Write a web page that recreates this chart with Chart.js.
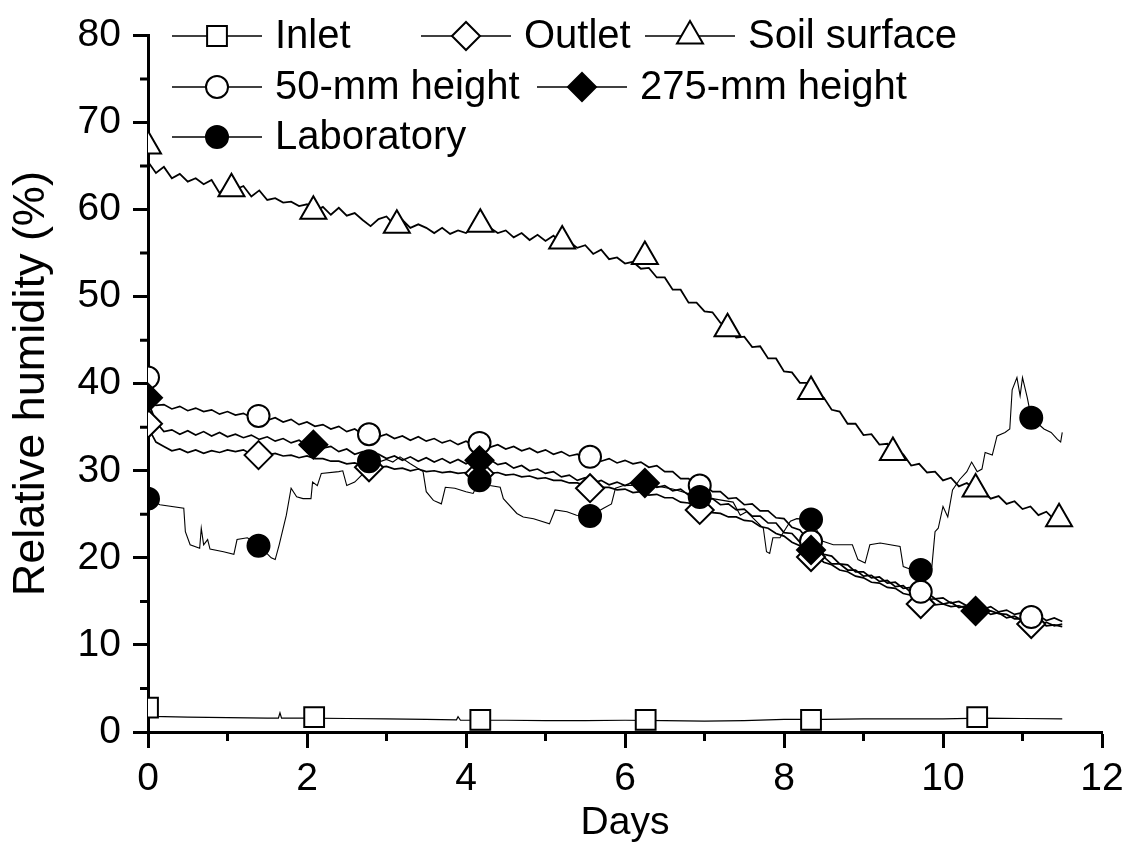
<!DOCTYPE html>
<html>
<head>
<meta charset="utf-8">
<script src="https://cdn.jsdelivr.net/npm/chart.js@4.4.1/dist/chart.umd.min.js"></script>
<style>
  html, body { margin: 0; padding: 0; background: #fff; }
  #wrap { width: 1134px; height: 849px; }
</style>
</head>
<body>
<div id="wrap"><canvas id="rhChart" width="1134" height="849"></canvas></div>
<script>
const FONT = '"Liberation Sans", Arial, sans-serif';

// Axis ticks
const xMajor = [0, 2, 4, 6, 8, 10, 12];
const xMinor = [1, 3, 5, 7, 9, 11];
const yMinor = [5, 15, 25, 35, 45, 55, 65, 75];

// Logged days shared by the four noisy probes
const days = [
  0.0, 0.1, 0.2, 0.3, 0.4, 0.5, 0.6, 0.7, 0.8, 0.9,
  1.0, 1.1, 1.2, 1.3, 1.4, 1.5, 1.6, 1.7, 1.8, 1.9,
  2.0, 2.1, 2.2, 2.3, 2.4, 2.5, 2.6, 2.7, 2.8, 2.9,
  3.0, 3.1, 3.2, 3.3, 3.4, 3.5, 3.6, 3.7, 3.8, 3.9,
  4.0, 4.1, 4.2, 4.3, 4.4, 4.5, 4.6, 4.7, 4.8, 4.9,
  5.0, 5.1, 5.2, 5.3, 5.4, 5.5, 5.6, 5.7, 5.8, 5.9,
  6.0, 6.1, 6.2, 6.3, 6.4, 6.5, 6.6, 6.7, 6.8, 6.9,
  7.0, 7.1, 7.2, 7.3, 7.4, 7.5, 7.6, 7.7, 7.8, 7.9,
  8.0, 8.1, 8.2, 8.3, 8.4, 8.5, 8.6, 8.7, 8.8, 8.9,
  9.0, 9.1, 9.2, 9.3, 9.4, 9.5, 9.6, 9.7, 9.8, 9.9,
  10.0, 10.1, 10.2, 10.3, 10.4, 10.5, 10.6, 10.7, 10.8, 10.9,
  11.0, 11.1, 11.2, 11.3, 11.4, 11.5
];

const soilRH = [
  65.5, 64.2, 64.9, 63.6, 64.1, 63.2, 63.6, 62.9, 63.4, 61.9,
  62.9, 62.3, 62.7, 61.5, 62.2, 61.1, 61.3, 60.8, 60.9, 60.4,
  60.6, 59.8, 60.3, 59.4, 60.2, 59.3, 59.6, 58.8, 58.1, 58.9,
  59.2, 58.2, 58.8, 57.9, 58.3, 57.9, 57.3, 57.9, 57.2, 57.6,
  57.3, 58.1, 57.6, 57.9, 57.3, 57.6, 56.8, 57.3, 56.5, 57.1,
  56.4, 57.0, 56.1, 56.3, 55.6, 55.9, 54.9, 55.4, 54.3, 54.5,
  53.8, 54.0, 53.2, 53.3, 52.2, 52.2, 50.8, 50.8, 49.3, 49.3,
  48.3, 48.2, 47.0, 46.6, 45.3, 45.4, 44.2, 44.3, 42.9, 42.9,
  41.4, 41.3, 40.1, 40.1, 38.9, 38.4, 37.0, 36.8, 35.4, 35.4,
  34.1, 34.2, 33.0, 33.1, 32.0, 31.9, 30.6, 30.8, 29.8, 29.9,
  28.9, 29.2, 28.2, 28.6, 27.9, 27.7, 26.8, 27.1, 26.2, 26.5,
  25.6, 25.9, 24.9, 25.3, 24.4, 24.9
];

const mm50RH = [
  38.6, 37.5, 37.6, 37.1, 37.4, 36.9, 37.2, 36.8, 37.0, 36.5,
  36.8, 36.4, 36.6, 36.1, 36.4, 35.8, 36.1, 35.6, 35.9, 35.3,
  35.6, 35.1, 35.3, 34.8, 35.1, 34.5, 34.8, 34.2, 34.4, 33.9,
  34.2, 33.7, 34.0, 33.5, 33.9, 33.4, 33.7, 33.2, 33.5, 33.0,
  33.4, 32.9, 33.2, 32.7, 33.0, 32.5, 32.8, 32.3, 32.6, 32.1,
  32.4, 31.9, 32.2, 31.7, 31.9, 31.4, 31.6, 31.1, 31.4, 30.9,
  31.2, 30.8, 31.0, 30.4, 30.6, 29.9, 29.9, 29.1, 29.1, 28.3,
  28.4, 27.6, 27.6, 26.8, 26.9, 26.1, 26.2, 25.4, 25.4, 24.6,
  24.5, 23.5, 23.2, 22.1, 21.8, 20.4, 20.2, 19.3, 19.2, 18.4,
  18.4, 17.7, 17.8, 17.1, 17.2, 16.5, 16.6, 15.9, 16.0, 15.3,
  15.4, 14.8, 15.0, 14.5, 14.7, 14.1, 14.4, 13.8, 14.0, 13.5,
  13.7, 13.1, 13.4, 12.8, 13.1, 12.7
];

const mm275RH = [
  38.0, 35.6, 34.5, 34.7, 34.2, 34.6, 34.1, 34.5, 34.0, 34.4,
  33.9, 34.2, 33.8, 34.1, 33.6, 33.9, 33.4, 33.7, 33.2, 33.5,
  32.9, 33.2, 32.6, 32.8, 32.2, 32.5, 31.9, 32.2, 31.6, 31.9,
  31.4, 31.7, 31.2, 31.6, 31.1, 31.5, 31.0, 31.4, 30.9, 31.3,
  30.8, 31.2, 30.9, 31.3, 30.7, 30.9, 30.3, 30.6, 30.0, 30.2,
  29.7, 29.9, 29.3, 29.5, 28.9, 29.2, 28.6, 28.9, 28.4, 28.7,
  28.3, 28.7, 28.3, 28.6, 28.1, 28.3, 27.7, 27.9, 27.2, 27.3,
  26.7, 26.8, 26.1, 26.2, 25.5, 25.6, 24.8, 24.8, 24.0, 24.0,
  22.9, 22.8, 21.8, 21.4, 20.3, 20.1, 19.3, 19.3, 18.6, 18.6,
  17.9, 18.0, 17.3, 17.4, 16.7, 16.8, 16.0, 16.0, 15.2, 15.3,
  14.7, 14.9, 14.3, 14.5, 13.9, 14.1, 13.5, 13.7, 13.1, 13.3,
  12.8, 12.9, 12.4, 12.6, 12.2, 12.4
];

const outletRH = [
  35.0, 33.3, 32.8, 32.3, 32.5, 32.1, 32.4, 32.0, 32.3, 32.1,
  32.4, 32.2, 32.4, 31.9, 32.0, 31.8, 32.0, 31.7, 31.8, 31.5,
  31.7, 31.4, 31.4, 31.1, 31.1, 30.8, 30.9, 30.6, 30.7, 30.4,
  30.5, 30.2, 30.3, 30.0, 30.2, 29.9, 30.0, 29.8, 29.9, 29.7,
  29.8, 29.6, 29.9, 29.7, 29.8, 29.5, 29.6, 29.3, 29.4, 29.1,
  29.2, 28.9, 28.9, 28.6, 28.6, 28.3, 28.4, 28.1, 28.1, 27.8,
  27.9, 27.5, 27.6, 27.2, 27.3, 26.9, 26.9, 26.4, 26.3, 25.8,
  25.7, 25.2, 25.1, 24.7, 24.7, 24.3, 24.2, 23.6, 23.4, 22.8,
  22.5, 21.8, 21.4, 20.6, 20.3, 19.5, 19.2, 18.6, 18.4, 17.9,
  17.7, 17.2, 17.1, 16.6, 16.5, 15.9, 15.7, 15.1, 15.0, 14.6,
  14.7, 14.4, 14.5, 14.2, 14.2, 13.9, 13.9, 13.6, 13.5, 13.0,
  13.0, 12.6, 12.6, 12.2, 12.3, 12.1
];

const inletDays = [0, 0.05, 0.5, 1.0, 1.5, 1.64, 1.66, 1.68, 2.0, 2.5, 3.0, 3.5, 3.88, 3.9, 3.93,
  4.5, 5.0, 5.5, 6.0, 6.5, 7.0, 7.5, 8.0, 8.5, 9.0, 9.5, 10.0, 10.5, 11.0, 11.5];
const inletRH = [2.8, 1.8, 1.7, 1.65, 1.6, 1.6, 2.2, 1.6, 1.6, 1.55, 1.5, 1.45, 1.4, 1.75, 1.35,
  1.35, 1.3, 1.3, 1.35, 1.3, 1.25, 1.3, 1.45, 1.45, 1.5, 1.5, 1.5, 1.6, 1.55, 1.5];

const labDays = [
  0, 0.15, 0.45, 0.47, 0.53, 0.65, 0.67, 0.7, 0.75, 0.78,
  0.95, 1.08, 1.12, 1.25, 1.4, 1.55, 1.6, 1.65, 1.74, 1.8,
  1.87, 1.95, 2.05, 2.07, 2.13, 2.18, 2.4, 2.45, 2.5, 2.6,
  2.7, 2.78, 2.9, 3.0, 3.08, 3.17, 3.3, 3.46, 3.5, 3.59,
  3.69, 3.74, 3.86, 4.0, 4.09, 4.17, 4.3, 4.43, 4.47, 4.64,
  4.72, 4.85, 5.05, 5.12, 5.27, 5.39, 5.56, 5.73, 5.83, 5.88,
  5.98, 6.3, 6.6, 6.94, 7.1, 7.36, 7.45, 7.53, 7.74, 7.78,
  7.82, 7.86, 7.95, 8.08, 8.16, 8.34, 8.49, 8.62, 8.86, 8.93,
  9.02, 9.08, 9.21, 9.46, 9.5, 9.59, 9.72, 9.86, 9.9, 9.94,
  10.0, 10.06, 10.12, 10.21, 10.3, 10.36, 10.43, 10.49, 10.53, 10.62,
  10.68, 10.78, 10.84, 10.87, 10.93, 10.97, 11.0, 11.06, 11.11, 11.27,
  11.36, 11.44, 11.48, 11.5
];
const labRH = [
  26.8, 26.1, 25.7, 23.0, 21.5, 21.1, 23.4, 21.5, 22.1, 21.0,
  20.7, 20.4, 22.1, 22.3, 21.4, 20.0, 19.8, 21.5, 24.9, 28.0,
  27.0, 26.8, 26.8, 28.7, 28.3, 29.7, 29.9, 30.0, 28.3, 28.7,
  29.6, 31.1, 31.0, 31.3, 31.0, 31.6, 30.8, 29.9, 27.6, 26.6,
  26.2, 28.1, 28.0, 27.6, 27.4, 28.9, 28.3, 28.1, 26.8, 25.1,
  24.7, 24.5, 23.9, 25.5, 25.3, 24.9, 24.8, 25.7, 26.2, 28.0,
  28.3, 28.4, 27.9, 27.0, 26.8, 26.4, 24.9, 25.3, 23.4, 20.7,
  20.5, 22.3, 22.3, 24.2, 24.5, 24.4, 21.9, 21.5, 21.5, 19.8,
  19.4, 21.5, 21.7, 21.3, 19.0, 18.7, 18.6, 19.0, 23.0, 23.4,
  25.9, 24.7, 27.8, 29.0, 29.9, 31.0, 29.9, 30.2, 32.1, 31.8,
  34.0, 34.4, 34.8, 39.3, 40.7, 38.6, 40.7, 38.4, 36.1, 34.8,
  34.4, 33.6, 33.3, 34.4
];

// Symbol positions (plotted every n-th reading)
const inletMarkDays = [0, 2.09, 4.18, 6.26, 8.34, 10.43];
const inletMarkRH = [2.8, 1.7, 1.4, 1.4, 1.4, 1.7];
const outletMarkDays = [0, 1.39, 2.78, 4.17, 5.56, 6.94, 8.34, 9.72, 11.11];
const outletMarkRH = [35.4, 31.8, 30.4, 29.7, 28.0, 25.5, 20.1, 14.7, 12.4];
const soilMarkDays = [0, 1.05, 2.08, 3.13, 4.18, 5.21, 6.25, 7.29, 8.34, 9.37, 10.41, 11.46];
const soilMarkRH = [67.3, 62.4, 59.8, 58.2, 58.3, 56.4, 54.6, 46.3, 39.1, 32.1, 27.9, 24.5];
const mm50MarkDays = [0, 1.39, 2.78, 4.17, 5.56, 6.94, 8.34, 9.72, 11.11];
const mm50MarkRH = [40.7, 36.3, 34.2, 33.2, 31.6, 28.3, 21.9, 16.1, 13.2];
const mm275MarkDays = [0, 2.08, 4.17, 6.25, 8.34, 10.41];
const mm275MarkRH = [38.4, 33.0, 31.2, 28.6, 20.9, 13.9];
const labMarkDays = [0, 1.39, 2.78, 4.17, 5.56, 6.94, 8.34, 9.72, 11.11];
const labMarkRH = [26.8, 21.4, 31.1, 28.9, 24.8, 27.0, 24.4, 18.6, 36.1];

const toPoints = (xs, ys) => xs.map((x, i) => ({ x: x, y: ys[i] }));

const seriesList = [
  { label: 'Inlet', xs: inletDays, ys: inletRH, mx: inletMarkDays, my: inletMarkRH,
    shape: 'rect', radius: 14, fill: '#ffffff', lw: 1.2 },
  { label: 'Outlet', xs: days, ys: outletRH, mx: outletMarkDays, my: outletMarkRH,
    shape: 'rectRot', radius: 14, fill: '#ffffff', lw: 1.7 },
  { label: 'Soil surface', xs: days, ys: soilRH, mx: soilMarkDays, my: soilMarkRH,
    shape: 'triangle', radius: 15, fill: '#ffffff', lw: 1.8 },
  { label: '50-mm height', xs: days, ys: mm50RH, mx: mm50MarkDays, my: mm50MarkRH,
    shape: 'circle', radius: 11, fill: '#ffffff', lw: 1.7 },
  { label: '275-mm height', xs: days, ys: mm275RH, mx: mm275MarkDays, my: mm275MarkRH,
    shape: 'rectRot', radius: 14, fill: '#000000', lw: 1.7 },
  { label: 'Laboratory', xs: labDays, ys: labRH, mx: labMarkDays, my: labMarkRH,
    shape: 'circle', radius: 11, fill: '#000000', lw: 1.1 }
];

const datasets = [];
seriesList.forEach((s, i) => {
  datasets.push({
    label: s.label,
    data: toPoints(s.xs, s.ys),
    borderColor: '#000000',
    borderWidth: s.lw,
    pointRadius: 0,
    tension: 0,
    clip: 0,
    order: 20 - i
  });
  datasets.push({
    label: s.label + ' symbols',
    data: toPoints(s.mx, s.my),
    showLine: false,
    pointStyle: s.shape,
    pointRadius: s.radius,
    pointBackgroundColor: s.fill,
    pointBorderColor: '#000000',
    pointBorderWidth: 2,
    clip: 0,
    order: 10 - i
  });
});

// legend layout: symbol line start and row centre
const legendSpots = [
  { x: 172, y: 36 }, { x: 421, y: 36 }, { x: 645, y: 36 },
  { x: 172, y: 87 }, { x: 537, y: 87 },
  { x: 172, y: 137 }
];

const originLegend = {
  id: 'originLegend',
  afterDraw(chart) {
    const ctx = chart.ctx;
    ctx.save();
    seriesList.forEach((s, i) => {
      const p = legendSpots[i];
      ctx.strokeStyle = '#000';
      ctx.lineWidth = 1.5;
      ctx.beginPath();
      ctx.moveTo(p.x, p.y);
      ctx.lineTo(p.x + 90, p.y);
      ctx.stroke();
      ctx.fillStyle = s.fill;
      ctx.lineWidth = 2;
      Chart.helpers.drawPoint(ctx, { pointStyle: s.shape, radius: s.radius, rotation: 0, borderWidth: 2 }, p.x + 45, p.y);
      ctx.fillStyle = '#000';
      ctx.font = '40px ' + FONT;
      ctx.textBaseline = 'middle';
      ctx.textAlign = 'left';
      ctx.fillText(s.label, p.x + 103, p.y + 1);
    });
    ctx.restore();
  }
};

const minorTicks = {
  id: 'minorTicks',
  afterDraw(chart) {
    const { ctx, chartArea, scales } = chart;
    ctx.save();
    ctx.strokeStyle = '#000';
    ctx.lineWidth = 3;
    ctx.beginPath();
    xMinor.forEach(v => {
      const px = scales.x.getPixelForValue(v);
      ctx.moveTo(px, chartArea.bottom);
      ctx.lineTo(px, chartArea.bottom + 9);
    });
    yMinor.forEach(v => {
      const py = scales.y.getPixelForValue(v);
      ctx.moveTo(chartArea.left, py);
      ctx.lineTo(chartArea.left - 8, py);
    });
    ctx.stroke();
    ctx.restore();
  }
};

const tickFont = { family: FONT, size: 39 };

new Chart(document.getElementById('rhChart'), {
  type: 'line',
  data: { datasets: datasets },
  options: {
    responsive: false,
    animation: false,
    layout: { padding: { top: 30, right: 32, left: 0, bottom: 0 } },
    plugins: { legend: { display: false }, tooltip: { enabled: false } },
    scales: {
      x: {
        type: 'linear',
        min: 0,
        max: 12,
        afterBuildTicks: scale => { scale.ticks = xMajor.map(v => ({ value: v })); },
        afterFit: scale => { scale.height = 117; },
        grid: { drawOnChartArea: false, drawTicks: true, tickLength: 16, tickWidth: 3, tickColor: '#000' },
        border: { display: true, color: '#000', width: 3 },
        ticks: { color: '#000', font: tickFont, padding: 8, maxRotation: 0 },
        title: { display: true, text: 'Days', color: '#000', font: tickFont, padding: { top: 0, bottom: 2 } }
      },
      y: {
        min: 0,
        max: 80,
        ticks: { stepSize: 10, color: '#000', font: tickFont, padding: 12 },
        afterFit: scale => { scale.width = 148; },
        grid: { drawOnChartArea: false, drawTicks: true, tickLength: 15, tickWidth: 3, tickColor: '#000' },
        border: { display: true, color: '#000', width: 3 },
        title: { display: true, text: 'Relative humidity (%)', color: '#000',
          font: { family: FONT, size: 45 }, padding: { top: 5, bottom: 0 } }
      }
    }
  },
  plugins: [minorTicks, originLegend]
});
</script>
</body>
</html>
